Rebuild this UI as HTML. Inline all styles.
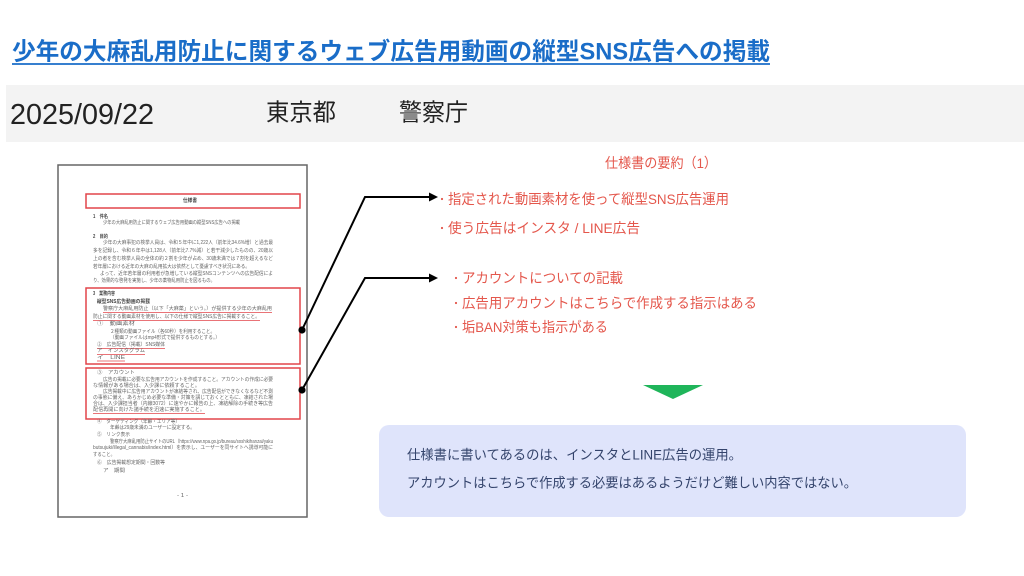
<!DOCTYPE html>
<html><head><meta charset="utf-8"><style>
html,body{margin:0;padding:0;background:#fff;}
svg{display:block;}
text{font-family:"Liberation Sans","Noto Sans CJK JP",sans-serif;}
.d{font-size:5px;fill:#666;dominant-baseline:central;}
.db{font-size:5px;fill:#444;font-weight:bold;dominant-baseline:central;}
.r{font-size:14px;fill:#e4574c;dominant-baseline:central;}
.b{font-size:13.5px;fill:#34446c;dominant-baseline:central;}
</style></head><body>
<svg width="1024" height="576" viewBox="0 0 1024 576" xmlns="http://www.w3.org/2000/svg">
<rect width="1024" height="576" fill="#fff"/>
<!-- title -->
<text x="12" y="52" font-size="24" font-weight="bold" fill="#1a6dc8" dominant-baseline="central" textLength="758" lengthAdjust="spacingAndGlyphs">少年の大麻乱用防止に関するウェブ広告用動画の縦型SNS広告への掲載</text>
<line x1="12" y1="64" x2="770" y2="64" stroke="#1a6dc8" stroke-width="1.8"/>
<!-- gray band -->
<rect x="6" y="85" width="1018" height="57" fill="#f3f3f3"/>
<text x="10" y="124" font-size="29" fill="#222" textLength="144" lengthAdjust="spacingAndGlyphs">2025/09/22</text>
<text x="266" y="113" font-size="24" fill="#222" dominant-baseline="central" textLength="70" lengthAdjust="spacingAndGlyphs">東京都</text>
<text x="399" y="113" font-size="24" fill="#222" dominant-baseline="central" textLength="69" lengthAdjust="spacingAndGlyphs">警察庁</text>

<!-- document thumbnail -->
<rect x="58" y="165" width="249" height="352" fill="#fff" stroke="#666" stroke-width="1.5"/>
<rect x="86" y="194" width="214" height="14" fill="none" stroke="#e2454a" stroke-width="1.5"/>
<text class="db" x="183" y="201" textLength="14" lengthAdjust="spacingAndGlyphs">仕様書</text>
<text class="db" x="93" y="217" textLength="15" lengthAdjust="spacingAndGlyphs">1　件名</text>
<text class="d" x="103" y="223" textLength="137" lengthAdjust="spacingAndGlyphs">少年の大麻乱用防止に関するウェブ広告用動画の縦型SNS広告への掲載</text>
<text class="db" x="93" y="237" textLength="15" lengthAdjust="spacingAndGlyphs">2　目的</text>
<text class="d" x="103" y="243" textLength="170" lengthAdjust="spacingAndGlyphs">少年の大麻事犯の検挙人員は、令和５年中に1,222人（前年比34.6%増）と過去最</text>
<text class="d" x="93" y="251" textLength="180" lengthAdjust="spacingAndGlyphs">多を記録し、令和６年中は1,128人（前年比7.7%減）と若干減少したものの、20歳以</text>
<text class="d" x="93" y="259" textLength="180" lengthAdjust="spacingAndGlyphs">上の者を含む検挙人員の全体の約２割を少年が占め、30歳未満では７割を超えるなど</text>
<text class="d" x="93" y="267" textLength="157" lengthAdjust="spacingAndGlyphs">若年層における近年の大麻の乱用拡大は依然として憂慮すべき状況にある。</text>
<text class="d" x="100" y="274" textLength="173" lengthAdjust="spacingAndGlyphs">よって、近年若年層の利用者が急増している縦型SNSコンテンツへの広告配信によ</text>
<text class="d" x="93" y="281" textLength="122" lengthAdjust="spacingAndGlyphs">り、効果的な啓発を実施し、少年の薬物乱用防止を図るもの。</text>

<rect x="86" y="288" width="214" height="76" fill="none" stroke="#e2454a" stroke-width="1.5"/>
<text class="db" x="93" y="294" textLength="22" lengthAdjust="spacingAndGlyphs">3　業務内容</text>
<text class="db" x="97" y="302" textLength="53" lengthAdjust="spacingAndGlyphs">縦型SNS広告動画の掲載</text>
<text class="d" x="103" y="309" textLength="169" lengthAdjust="spacingAndGlyphs">警察庁大麻乱用防止（以下「大麻薬」という。）が提供する少年の大麻乱用</text>
<line x1="103" y1="312.5" x2="272" y2="312.5" stroke="#e2454a" stroke-width="0.8"/>
<text class="d" x="93" y="317" textLength="167" lengthAdjust="spacingAndGlyphs">防止に関する動画素材を使用し、以下の仕様で縦型SNS広告に掲載すること。</text>
<line x1="93" y1="320.5" x2="260" y2="320.5" stroke="#e2454a" stroke-width="0.8"/>
<text class="d" x="97" y="324" textLength="38" lengthAdjust="spacingAndGlyphs">①　動画素材</text>
<text class="d" x="110" y="332" textLength="105" lengthAdjust="spacingAndGlyphs">２種類の動画ファイル（各60秒）を利用すること。</text>
<text class="d" x="110" y="338" textLength="110" lengthAdjust="spacingAndGlyphs">（動画ファイルはmp4形式で提供するものとする。）</text>
<text class="d" x="97" y="345" textLength="68" lengthAdjust="spacingAndGlyphs">②　広告配信（掲載）SNS媒体</text>
<line x1="97" y1="348.5" x2="165" y2="348.5" stroke="#e2454a" stroke-width="0.8"/>
<text class="d" x="97" y="351" textLength="48" lengthAdjust="spacingAndGlyphs">ア　インスタグラム</text>
<line x1="97" y1="354.5" x2="145" y2="354.5" stroke="#e2454a" stroke-width="0.8"/>
<text class="d" x="97" y="358" textLength="28" lengthAdjust="spacingAndGlyphs">イ　LINE</text>
<line x1="97" y1="361" x2="125" y2="361" stroke="#e2454a" stroke-width="0.8"/>

<rect x="86" y="368" width="214" height="51" fill="none" stroke="#e2454a" stroke-width="1.5"/>
<text class="d" x="97" y="373" textLength="38" lengthAdjust="spacingAndGlyphs">③　アカウント</text>
<text class="d" x="103" y="380" textLength="170" lengthAdjust="spacingAndGlyphs">広告の掲載に必要な広告用アカウントを作成すること。アカウントの作成に必要</text>
<text class="d" x="93" y="386" textLength="107" lengthAdjust="spacingAndGlyphs">な情報がある場合は、入少課に依頼すること。</text>
<text class="d" x="103" y="392" textLength="170" lengthAdjust="spacingAndGlyphs">広告掲載中に広告用アカウントが凍結等され、広告配信ができなくなるなど不測</text>
<text class="d" x="93" y="398" textLength="180" lengthAdjust="spacingAndGlyphs">の事態に備え、あらかじめ必要な準備・対策を講じておくとともに、凍結された場</text>
<text class="d" x="93" y="404" textLength="180" lengthAdjust="spacingAndGlyphs">合は、入少課担当者（内線3072）に速やかに報告の上、凍結解除の手続き等広告</text>
<text class="d" x="93" y="410" textLength="112" lengthAdjust="spacingAndGlyphs">配信再開に向けた諸手続を迅速に実施すること。</text>
<line x1="93" y1="413.5" x2="205" y2="413.5" stroke="#e2454a" stroke-width="0.8"/>

<text class="d" x="97" y="422" textLength="83" lengthAdjust="spacingAndGlyphs">④　ターゲティング（年齢・エリア等）</text>
<text class="d" x="110" y="428" textLength="85" lengthAdjust="spacingAndGlyphs">年齢は29歳未満のユーザーに設定する。</text>
<text class="d" x="97" y="435" textLength="33" lengthAdjust="spacingAndGlyphs">⑤　リンク表示</text>
<text class="d" x="110" y="442" textLength="163" lengthAdjust="spacingAndGlyphs">警察庁大麻乱用防止サイトのURL（https://www.npa.go.jp/bureau/soshikihanzai/yaku</text>
<text class="d" x="93" y="448" textLength="180" lengthAdjust="spacingAndGlyphs">butsujuki/illegal_cannabis/index.html）を表示し、ユーザーを同サイトへ誘導可能に</text>
<text class="d" x="93" y="455" textLength="22" lengthAdjust="spacingAndGlyphs">すること。</text>
<text class="d" x="97" y="463" textLength="68" lengthAdjust="spacingAndGlyphs">⑥　広告掲載想定期間・回数等</text>
<text class="d" x="103" y="471" textLength="22" lengthAdjust="spacingAndGlyphs">ア　期間</text>
<text class="d" x="177" y="496" textLength="11" lengthAdjust="spacingAndGlyphs">- 1 -</text>

<!-- connectors -->
<polyline points="302,330 365,197 431,197" fill="none" stroke="#000" stroke-width="2"/>
<polygon points="438,197 429,192.5 429,201.5" fill="#000"/>
<circle cx="302" cy="330" r="3.6" fill="#000"/>
<polyline points="302,390 365,278 431,278" fill="none" stroke="#000" stroke-width="2"/>
<polygon points="438,278 429,273.5 429,282.5" fill="#000"/>
<circle cx="302" cy="390" r="3.6" fill="#000"/>

<!-- right texts -->
<text class="r" x="605" y="163" font-size="13.5" textLength="112" lengthAdjust="spacingAndGlyphs">仕様書の要約（1）</text>
<circle cx="442" cy="199" r="1.1" fill="#e4574c"/>
<text class="r" x="448" y="199" textLength="281" lengthAdjust="spacingAndGlyphs">指定された動画素材を使って縦型SNS広告運用</text>
<circle cx="442" cy="228" r="1.1" fill="#e4574c"/>
<text class="r" x="448" y="228" textLength="192" lengthAdjust="spacingAndGlyphs">使う広告はインスタ / LINE広告</text>
<circle cx="456" cy="278" r="1.1" fill="#e4574c"/>
<text class="r" x="462" y="278" textLength="161" lengthAdjust="spacingAndGlyphs">アカウントについての記載</text>
<circle cx="456" cy="303" r="1.1" fill="#e4574c"/>
<text class="r" x="462" y="303" textLength="295" lengthAdjust="spacingAndGlyphs">広告用アカウントはこちらで作成する指示はある</text>
<circle cx="456" cy="327" r="1.1" fill="#e4574c"/>
<text class="r" x="462" y="327" textLength="146" lengthAdjust="spacingAndGlyphs">垢BAN対策も指示がある</text>

<!-- green triangle -->
<polygon points="643,385 703,385 673,399" fill="#1fb55a"/>

<!-- summary box -->
<rect x="379" y="425" width="587" height="92" rx="10" fill="#dfe4fb"/>
<text class="b" x="407" y="455" textLength="335" lengthAdjust="spacingAndGlyphs">仕様書に書いてあるのは、インスタとLINE広告の運用。</text>
<text class="b" x="407" y="483" textLength="450" lengthAdjust="spacingAndGlyphs">アカウントはこちらで作成する必要はあるようだけど難しい内容ではない。</text>
</svg>
</body></html>
